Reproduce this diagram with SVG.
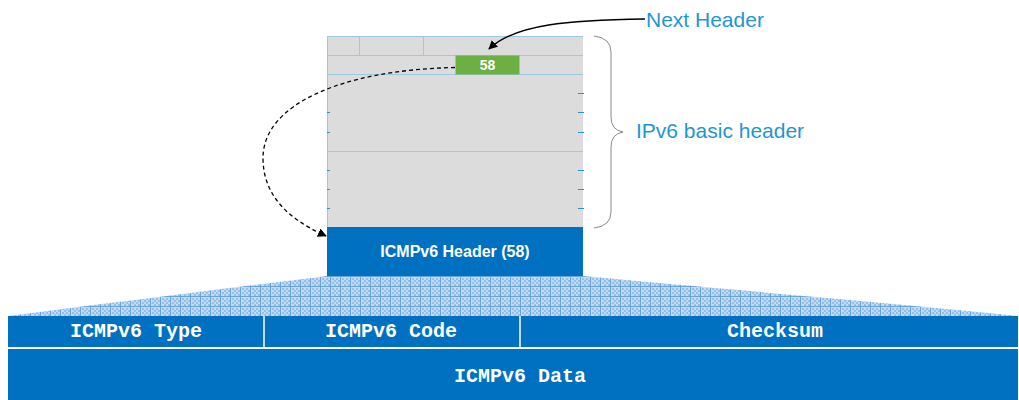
<svg xmlns="http://www.w3.org/2000/svg" width="1019" height="400" viewBox="0 0 1019 400">
  <style>
    .label { font-family: "Liberation Sans", Arial, sans-serif; fill: #1e96d3; font-size: 21px; }
    .hdr { font-family: "Liberation Sans", Arial, sans-serif; font-weight: bold; fill: #ffffff; }
    .mono { font-family: "Liberation Mono", "Courier New", monospace; font-weight: bold; fill: #ffffff; font-size: 20px; text-anchor: middle; }
    .field { fill: #dcdcdc; }
    .rowline { stroke: #9ccadf; stroke-width: 1; fill: none; }
    .tick { stroke: #1e96d3; stroke-width: 1.2; }
    .blue { fill: #0070c0; }
    .conn { fill: none; stroke: #000000; stroke-width: 1.3; }
  </style>
  <defs>
    <pattern id="mesh" width="10" height="10" patternUnits="userSpaceOnUse" x="0" y="276">
      <rect width="10" height="10" fill="#c2dbf2"/>
      <path d="M2 2h2v2h-2zM6 2h2v2h-2zM4 4h2v2h-2zM8 4h2v2h-2zM2 6h2v2h-2zM6 6h2v2h-2zM4 8h2v2h-2zM8 8h2v2h-2z" fill="#94bfe8"/>
      <path d="M0 0.5H10M0.5 0V10" stroke="#68a4db" stroke-width="1"/>
    </pattern>
    <marker id="tip" viewBox="0 0 10 10" refX="9" refY="5" markerWidth="9" markerHeight="9" markerUnits="userSpaceOnUse" orient="auto">
      <path d="M0 0L10 5L0 10z" fill="#000000"/>
    </marker>
  </defs>

  <!-- IPv6 basic header block -->
  <g id="ipv6-header">
    <rect class="field" x="327" y="36" width="256" height="191"/>
    <path class="rowline" d="M327 36.5H583M327 55.5H583M327 74.5H583M327 151.5H583M327.5 36V227M359.5 36V55M423.5 36V55"/>
    <g class="tick">
      <path d="M578 93.5H584M578 112.5H584M578 132.5H584M578 170.5H584M578 189.5H584M578 208.5H584"/>
      <path d="M327 112.5H330M327 132.5H330M327 170.5H330M327 189.5H330M327 208.5H330"/>
    </g>
  </g>

  <!-- Next Header field -->
  <g id="next-header-field">
    <rect x="455.5" y="55.5" width="64" height="19" fill="#6cb043"/>
    <text class="hdr" x="487.5" y="69.5" font-size="14" text-anchor="middle">58</text>
  </g>

  <!-- ICMPv6 header block -->
  <g id="icmpv6-header">
    <rect class="blue" x="327" y="227" width="256" height="49"/>
    <text class="hdr" x="455" y="257" font-size="16" text-anchor="middle">ICMPv6 Header (58)</text>
  </g>

  <!-- expansion fan -->
  <g id="expansion">
    <path d="M8 316 C110 303 230 288 327 276 L583 276 C700 287 880 302 1018 316 Z" fill="url(#mesh)"/>
  </g>

  <!-- ICMPv6 message layout -->
  <g id="icmpv6-message">
    <rect class="blue" x="8" y="316" width="1010" height="31"/>
    <rect class="blue" x="8" y="349" width="1010" height="51"/>
    <path d="M264 316V347M520 316V347" stroke="#ffffff" stroke-width="1.5"/>
    <text class="mono" x="136" y="337">ICMPv6 Type</text>
    <text class="mono" x="391" y="337">ICMPv6 Code</text>
    <text class="mono" x="775" y="337">Checksum</text>
    <text class="mono" x="520" y="382">ICMPv6 Data</text>
  </g>

  <!-- annotations -->
  <g id="brace">
    <path d="M594 36 Q611 38 611 52 L611 117 Q611 130 623 132 Q611 134 611 147 L611 212 Q611 226 594 228" fill="none" stroke="#8a8a8a" stroke-width="1"/>
    <text class="label" x="636" y="138">IPv6 basic header</text>
  </g>
  <g id="next-header-label">
    <text class="label" x="646" y="26.5">Next Header</text>
  </g>

  <!-- connectors -->
  <g id="connectors">
    <path class="conn" d="M645 19 C570 20 515 24 489 49" marker-end="url(#tip)"/>
    <path class="conn" d="M455 67.5 C340 70 263 105 263 158 C263 200 295 222 326 236" stroke-dasharray="4 3" marker-end="url(#tip)"/>
  </g>
</svg>
